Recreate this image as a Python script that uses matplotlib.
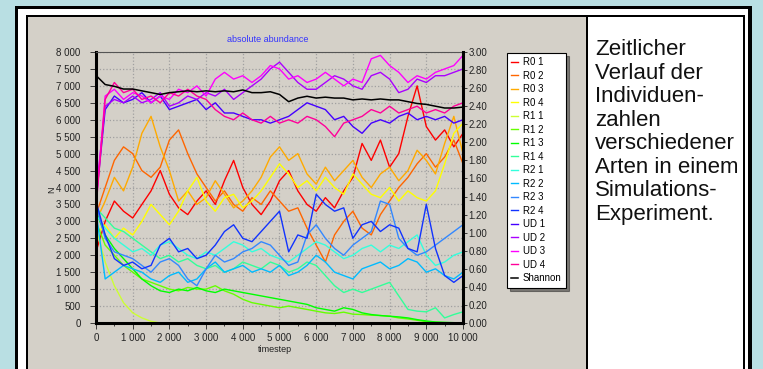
import numpy as np
import matplotlib.pyplot as plt
from matplotlib.patches import Rectangle
from matplotlib.ticker import FuncFormatter, MultipleLocator

plt.rcParams['font.family'] = ['Liberation Sans', 'DejaVu Sans']

W, H = 763, 369

# sampled every 250 timesteps
timestep = list(range(0, 10001, 250))

r0_1 = [2100, 3000, 3600, 3300, 3100, 3500, 3900, 4500, 3800, 3400, 3200, 3600, 3900, 3500, 4200, 4800, 4000, 3500, 3200, 3600, 4200,
        4500, 3900, 3500, 3300, 3700, 3400, 3900, 4300, 5300, 4800, 5400, 4600, 5000, 6100, 7000, 5800, 5400, 5700, 5200, 5600]
r0_2 = [3200, 4000, 4800, 5200, 5000, 4500, 4300, 4600, 5400, 5700, 5000, 4400, 4000, 3600, 3900, 3500, 3300, 3700, 3500, 3900, 3600,
        3300, 3400, 2800, 2300, 1800, 2600, 3000, 3300, 2800, 2600, 3200, 3600, 4000, 4300, 4700, 5000, 4600, 4900, 5400, 4700]
r0_3 = [3000, 3600, 4300, 3900, 4600, 5600, 6100, 5200, 4500, 3600, 3900, 3500, 3700, 4200, 3800, 3400, 3600, 3900, 4300, 4900, 5200,
        4800, 5000, 4400, 4100, 4600, 4200, 4500, 4800, 4300, 4000, 4400, 4600, 4200, 4500, 5100, 4800, 4400, 5300, 6100, 5000]
r0_4 = [2600, 2900, 2500, 2800, 2600, 3000, 3500, 3200, 2900, 3300, 3900, 4300, 3600, 3300, 3700, 3800, 3400, 3600, 3900, 4300, 4700,
        4400, 4000, 4200, 3900, 4300, 4000, 3800, 4400, 4100, 3800, 3700, 4000, 3600, 3900, 3700, 3600, 3900, 4700, 5600, 5900]
r1_1 = [2800, 1800, 1100, 600, 300, 150, 50, 0, 0, 0, 0, 0, 0, 0, 0, 0, 0, 0, 0, 0, 0,
        0, 0, 0, 0, 0, 0, 0, 0, 0, 0, 0, 0, 0, 0, 0, 0, 0, 0, 0, 0]
r1_2 = [3000, 2300, 2000, 1700, 1500, 1300, 1200, 1100, 1000, 950, 1050, 1000, 1000, 1100, 950, 850, 700, 600, 550, 500, 450,
        500, 450, 400, 350, 300, 280, 320, 260, 250, 230, 220, 200, 150, 120, 80, 40, 20, 10, 0, 0]
r1_3 = [3300, 2600, 2200, 1900, 1600, 1300, 1100, 950, 900, 1000, 950, 1050, 950, 900, 1000, 950, 900, 850, 800, 750, 700,
        650, 600, 550, 450, 400, 350, 450, 400, 300, 250, 220, 200, 180, 150, 100, 60, 30, 20, 10, 0]
r1_4 = [3400, 3100, 2800, 2700, 2500, 2300, 2100, 1900, 2000, 1800, 1900, 1700, 1600, 1700, 1500, 1600, 1800, 1700, 1600, 1800, 1700,
        1500, 1600, 1800, 1700, 1400, 1100, 900, 1000, 900, 1000, 1100, 1200, 800, 400, 350, 330, 450, 150, 250, 330]
r2_1 = [3200, 2800, 2500, 2300, 2100, 2200, 2000, 2300, 2400, 2200, 2000, 1900, 2100, 2000, 2200, 2400, 2300, 2100, 2200, 2000, 1900,
        1800, 2000, 2200, 2400, 2300, 2100, 1900, 2000, 2200, 2300, 2100, 2300, 2200, 2400, 2600, 2000, 1700, 1800, 2000, 2100]
r2_2 = [3300, 1300, 1500, 1700, 1600, 1500, 1300, 1200, 1400, 1500, 1200, 1300, 1600, 1800, 1500, 1600, 1700, 1500, 1600, 1500, 1700,
        1400, 1500, 1700, 2000, 1800, 1500, 1400, 1300, 1600, 1700, 1800, 1600, 1700, 1900, 1800, 1500, 1600, 1400, 1300, 1500]
r2_3 = [3500, 2500, 2100, 2000, 1900, 1700, 1500, 1800, 1900, 1700, 1300, 1100, 1600, 2000, 1800, 1900, 2100, 2200, 2400, 2300, 2000,
        1700, 1800, 2600, 2900, 2500, 2200, 2000, 2300, 2500, 2700, 3600, 3500, 2500, 2200, 2000, 2100, 2300, 2500, 2700, 2900]
r2_4 = [3600, 2600, 1900, 1700, 1800, 1600, 1700, 2300, 2500, 2100, 2200, 1900, 2000, 2300, 2700, 2900, 2500, 2400, 2700, 3000, 3300,
        2100, 2600, 2500, 3800, 3500, 3300, 3400, 2500, 2900, 3000, 2700, 2900, 2800, 2200, 2100, 3500, 2200, 1400, 1200, 1400]
ud_1 = [3600, 6300, 6700, 6500, 6600, 6800, 6500, 6700, 6300, 6400, 6500, 6600, 6300, 6500, 6200, 6200, 6100, 6000, 6000, 5900, 6000,
        6100, 6300, 6500, 6400, 6300, 6000, 6100, 5800, 5600, 5900, 6000, 5900, 6100, 6200, 6000, 6100, 6000, 6100, 5900, 6000]
ud_2 = [3800, 6400, 6600, 6500, 6700, 6500, 6600, 6800, 6400, 6500, 6700, 6600, 6800, 6700, 6900, 6600, 6800, 7000, 7200, 7500, 7700,
        7400, 7100, 6900, 6900, 7100, 7300, 7200, 7000, 6900, 7300, 7400, 7200, 6800, 6900, 7200, 7100, 7300, 7300, 7400, 7500]
ud_3 = [3500, 6700, 6900, 6600, 6800, 6700, 6500, 6700, 6600, 6900, 6800, 7000, 6700, 7200, 7400, 7200, 7300, 7100, 7300, 7600, 7500,
        7200, 7300, 7100, 7200, 7400, 7200, 7000, 7200, 7100, 7800, 7900, 7600, 7400, 7100, 7300, 7200, 7400, 7500, 7600, 7900]
ud_4 = [3400, 6600, 7100, 6800, 6900, 6600, 6700, 6500, 6800, 6700, 6900, 6700, 6600, 6300, 6100, 6000, 6200, 6000, 5900, 6100, 5900,
        6000, 5900, 6100, 6000, 5800, 5500, 5900, 6000, 6100, 6300, 6200, 6400, 6200, 6300, 6400, 6200, 6300, 6200, 6400, 6500]
shannon = [2.74, 2.64, 2.62, 2.59, 2.59, 2.57, 2.55, 2.53, 2.55, 2.56, 2.57, 2.56, 2.57, 2.56, 2.57, 2.56, 2.58, 2.55, 2.55, 2.56, 2.53,
           2.45, 2.49, 2.51, 2.49, 2.50, 2.49, 2.49, 2.47, 2.48, 2.47, 2.48, 2.47, 2.47, 2.45, 2.43, 2.42, 2.40, 2.38, 2.38, 2.39]

labels = ['R0 1', 'R0 2', 'R0 3', 'R0 4', 'R1 1', 'R1 2', 'R1 3', 'R1 4',
          'R2 1', 'R2 2', 'R2 3', 'R2 4', 'UD 1', 'UD 2', 'UD 3', 'UD 4']
series = [r0_1, r0_2, r0_3, r0_4, r1_1, r1_2, r1_3, r1_4,
          r2_1, r2_2, r2_3, r2_4, ud_1, ud_2, ud_3, ud_4]
colors = ['#ff0000', '#ff6600', '#ffaa00', '#ffff00', '#ccff33', '#66ff00', '#00ff00', '#33ff99',
          '#33ffdd', '#00bbff', '#3388ff', '#1133ff', '#4400ff', '#aa00ff', '#ff00ff', '#ff0099']

fig = plt.figure(figsize=(W / 100, H / 100), dpi=100)
fig.patch.set_facecolor('#b9dfe3')


def box(x0, y0, x1, y1, color):
    fig.add_artist(Rectangle((x0 / W, 1 - y1 / H), (x1 - x0) / W, (y1 - y0) / H,
                             transform=fig.transFigure, facecolor=color, edgecolor='none', zorder=-10))


# frames
box(15, 6, 752, 380, 'black')
box(18, 9, 748, 380, 'white')
box(26, 15, 745, 380, 'black')
box(28, 17, 743, 380, 'white')
box(28, 17, 586, 380, '#d4d0c8')
box(586, 17, 588, 380, 'black')

ax = fig.add_axes([96 / W, 1 - 323 / H, 367 / W, 271 / H])
ax.set_facecolor('#d4d0c8')
handles = []
for vals, lab, col in zip(series, labels, colors):
    h, = ax.plot(timestep, vals, color=col, lw=1.0, label=lab)
    handles.append(h)

ax.set_xlim(0, 10000)
ax.set_ylim(0, 8000)
ax.xaxis.set_major_locator(MultipleLocator(1000))
ax.xaxis.set_minor_locator(MultipleLocator(500))
ax.yaxis.set_major_locator(MultipleLocator(500))
thousands = FuncFormatter(lambda v, p: f'{v:,.0f}'.replace(',', ' '))
ax.xaxis.set_major_formatter(thousands)
ax.yaxis.set_major_formatter(thousands)
ax.grid(True, which='major', color='#a0a0a0', ls=':', lw=0.9)
ax.tick_params(axis='y', labelsize=7, length=4, width=0.6, colors='#222222', pad=7)
ax.tick_params(axis='x', labelsize=7, length=4, width=0.6, colors='#222222', pad=3)
ax.tick_params(which='minor', length=2, width=0.5)
for s in ['left', 'bottom']:
    ax.spines[s].set_linewidth(2.2)
ax.spines['top'].set_linewidth(0.8)
ax.spines['top'].set_color('#555555')

ax2 = ax.twinx()
sh, = ax2.plot(timestep, shannon, color='black', lw=1.1, label='Shannon')
handles.append(sh)
ax2.set_ylim(0, 3.0)
ax2.yaxis.set_major_locator(MultipleLocator(0.2))
ax2.yaxis.set_major_formatter(FuncFormatter(lambda v, p: f'{v:.2f}'))
ax2.tick_params(labelsize=7, length=3, width=0.6, colors='#222222', pad=1)
ax2.spines['right'].set_linewidth(2.2)
ax2.spines['top'].set_visible(False)
ax2.spines['left'].set_visible(False)
ax2.spines['bottom'].set_visible(False)

leg = fig.legend(handles=handles, loc='upper left', bbox_to_anchor=(507 / W, 1 - 53 / H),
                 bbox_transform=fig.transFigure, fontsize=7, frameon=True, fancybox=False,
                 shadow={'color': '#222222'}, handlelength=0.7, handletextpad=0.5,
                 labelspacing=0.36, borderpad=0.45, borderaxespad=0)
leg.get_frame().set_edgecolor('black')
leg.get_frame().set_linewidth(0.8)

fig.text(268 / W, 1 - 40 / H, 'absolute abundance', color='#3333ff', fontsize=6.5, ha='center', va='center')
fig.text(275 / W, 1 - 350 / H, 'timestep', fontsize=6.5, ha='center', va='center', color='#222222')
fig.text(52 / W, 1 - 190 / H, 'N', fontsize=6.5, rotation=90, ha='center', va='center', color='#222222')

fig.text(595 / W, 1 - 39 / H,
         'Zeitlicher\nVerlauf der\nIndividuen-\nzahlen\nverschiedener\nArten in einem\nSimulations-\nExperiment.',
         fontsize=16, ha='left', va='top', linespacing=1.16, color='#111111')

fig.savefig('out.png', dpi=100, facecolor=fig.get_facecolor())
